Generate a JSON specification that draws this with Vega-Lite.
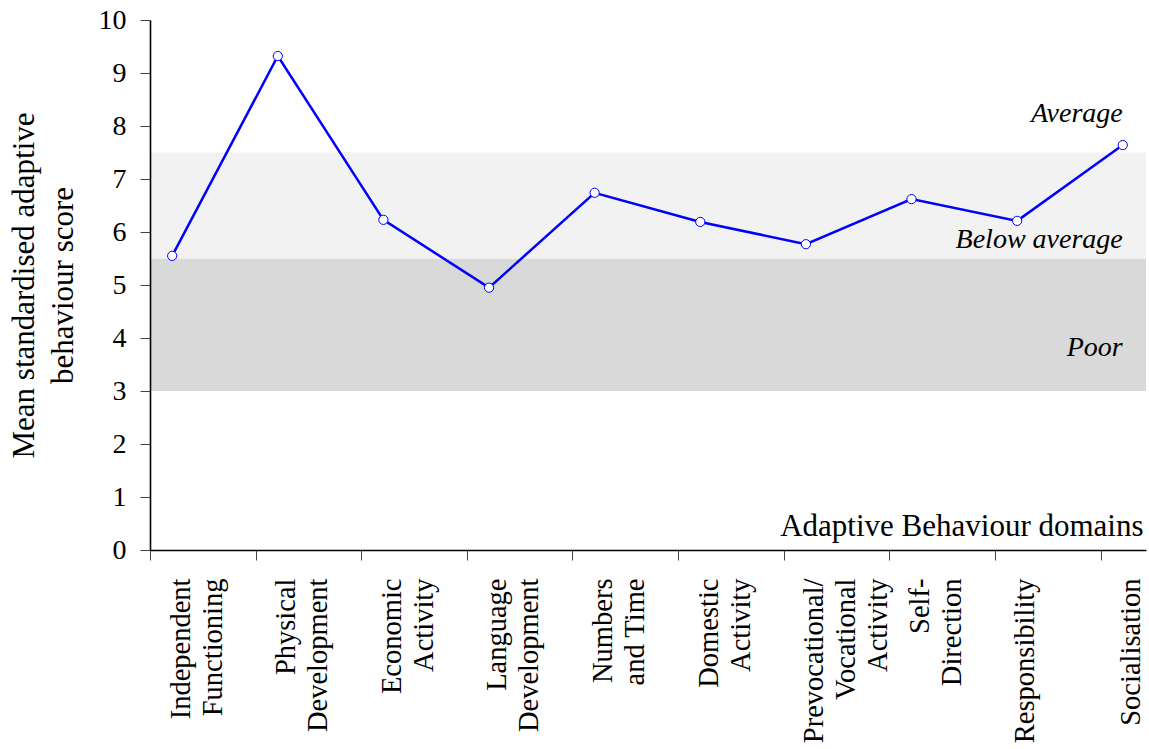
{
  "$schema": "https://vega.github.io/schema/vega-lite/v6.json",
  "width": 996,
  "height": 530,
  "autosize": "none",
  "padding": {"left": 150, "top": 20, "right": 3, "bottom": 199},
  "background": "white",
  "config": {"view": {"stroke": null}, "font": "Liberation Serif"},
  "datasets": {
    "scores": [
      {"idx": 0, "domain": "Independent Functioning", "score": 5.55},
      {"idx": 1, "domain": "Physical Development", "score": 9.32},
      {"idx": 2, "domain": "Economic Activity", "score": 6.23},
      {"idx": 3, "domain": "Language Development", "score": 4.95},
      {"idx": 4, "domain": "Numbers and Time", "score": 6.74},
      {"idx": 5, "domain": "Domestic Activity", "score": 6.19},
      {"idx": 6, "domain": "Prevocational/Vocational Activity", "score": 5.77},
      {"idx": 7, "domain": "Self-Direction", "score": 6.62},
      {"idx": 8, "domain": "Responsibility", "score": 6.21},
      {"idx": 9, "domain": "Socialisation", "score": 7.64}
    ],
    "bands": [
      {"band": "Poor", "lo": 3, "hi": 5.5},
      {"band": "Below average", "lo": 5.5, "hi": 7.5}
    ],
    "notes": [
      {"text": "Average", "x": 9, "y": 8.075},
      {"text": "Below average", "x": 9, "y": 5.7},
      {"text": "Poor", "x": 9, "y": 3.66}
    ]
  },
  "layer": [
    {
      "data": {"name": "bands"},
      "mark": {"type": "rect"},
      "encoding": {
        "x": {"datum": -0.21, "type": "quantitative"},
        "x2": {"datum": 9.22},
        "y": {"field": "lo", "type": "quantitative"},
        "y2": {"field": "hi"},
        "color": {"field": "band", "type": "nominal", "scale": {"domain": ["Poor", "Below average"], "range": ["#d9d9d9", "#f2f2f2"]}, "legend": null}
      }
    },
    {
      "data": {"name": "scores"},
      "mark": {"type": "line", "color": "#0000ff", "strokeWidth": 2.5},
      "encoding": {
        "x": {
          "field": "idx", "type": "quantitative",
          "scale": {"domain": [-0.21, 9.22], "nice": false, "zero": false},
          "axis": {
            "zindex": 1,
            "values": [-0.21, 0.79, 1.79, 2.79, 3.79, 4.79, 5.79, 6.79, 7.79, 8.79],
            "labelExpr": "[['Independent','Functioning'],['Physical','Development'],['Economic','Activity'],['Language','Development'],['Numbers','and Time'],['Domestic','Activity'],['Prevocational/','Vocational','Activity'],['Self-','Direction'],['Responsibility'],['Socialisation']][round(datum.value+0.21)]",
            "labelAngle": 270,
            "labelAlign": "right",
            "labelBaseline": "top",
            "labelOffset": 16,
            "labelPadding": 18,
            "labelFontSize": 28.5,
            "labelLineHeight": 32,
            "labelColor": "black",
            "labelFont": "Liberation Serif",
            "labelFlush": false,
            "labelOverlap": false,
            "labelBound": false,
            "tickSize": 10,
            "tickColor": "#444444",
            "tickWidth": 1,
            "domainColor": "black",
            "domainWidth": 1.6,
            "grid": false,
            "title": "Adaptive Behaviour domains",
            "titleX": 993,
            "titleY": -15,
            "titleAlign": "right",
            "titleBaseline": "alphabetic",
            "titleFontSize": 31,
            "titleFontWeight": "normal",
            "titleColor": "black",
            "titleFont": "Liberation Serif"
          }
        },
        "y": {
          "field": "score", "type": "quantitative",
          "scale": {"domain": [0, 10], "nice": false},
          "axis": {
            "zindex": 1,
            "values": [0, 1, 2, 3, 4, 5, 6, 7, 8, 9, 10],
            "labelFontSize": 28,
            "labelFont": "Liberation Serif",
            "labelColor": "black",
            "labelPadding": 14,
            "tickSize": 10,
            "tickColor": "#444444",
            "tickWidth": 1,
            "domainColor": "black",
            "domainWidth": 1.6,
            "grid": false,
            "title": ["Mean standardised adaptive", "behaviour score"],
            "titleAngle": 270,
            "titleX": -141,
            "titleY": 265,
            "titleAlign": "center",
            "titleBaseline": "top",
            "titleLineHeight": 39,
            "titleFontSize": 31,
            "titleFontWeight": "normal",
            "titleColor": "black",
            "titleFont": "Liberation Serif"
          }
        }
      }
    },
    {
      "data": {"name": "scores"},
      "mark": {"type": "point", "filled": true, "fill": "white", "stroke": "#0000ff", "strokeWidth": 1, "size": 85, "opacity": 1},
      "encoding": {
        "x": {"field": "idx", "type": "quantitative"},
        "y": {"field": "score", "type": "quantitative"}
      }
    },
    {
      "data": {"name": "notes"},
      "mark": {"type": "text", "align": "right", "baseline": "alphabetic", "fontStyle": "italic", "fontSize": 28, "font": "Liberation Serif", "color": "black"},
      "encoding": {
        "x": {"field": "x", "type": "quantitative"},
        "y": {"field": "y", "type": "quantitative"},
        "text": {"field": "text"}
      }
    }
  ]
}
